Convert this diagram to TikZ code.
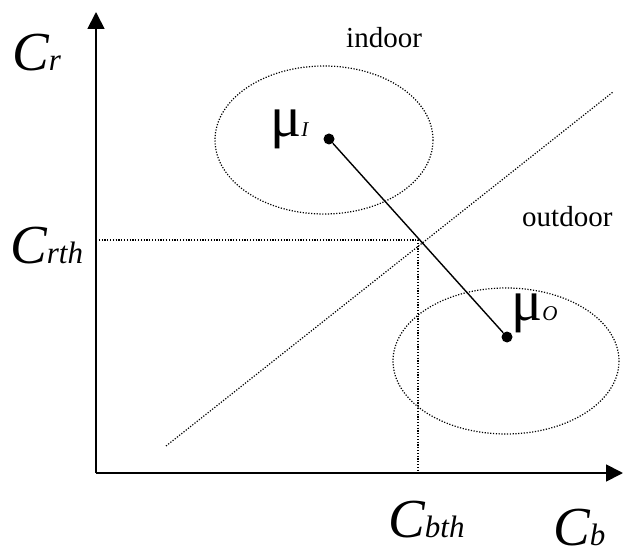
\documentclass[tikz,border=0pt]{standalone}
\usepackage{fontspec}
\setmainfont{Liberation Serif}
\usetikzlibrary{arrows.meta}
\newcommand{\bigC}[1]{{\fontsize{55}{55}\selectfont\itshape C}{\fontsize{31}{31}\selectfont\itshape #1}}
\newcommand{\mulab}[1]{{\fontsize{58}{58}\selectfont μ}{\fontsize{21}{21}\selectfont\itshape #1}}
\begin{document}
\begin{tikzpicture}[x=1pt,y=-1pt,
  axis/.style={line width=1.8pt,-{Triangle[length=17pt,width=17pt]}},
  dotline/.style={line width=1.2pt,dash pattern=on 1.2pt off 1.6pt},
  conn/.style={line width=1.4pt},
  ptdot/.style={circle,fill=black,inner sep=0pt,minimum size=11pt},
  lbl/.style={anchor=base west,inner sep=0pt},
  word/.style={anchor=base west,inner sep=0pt,font=\fontsize{29}{29}\selectfont}]
\useasboundingbox (0,0) rectangle (624,556);
\coordinate (O) at (96,473);
\coordinate (ytop) at (96,12);
\coordinate (xend) at (623,473);
\draw[axis] (O) -- (ytop);
\draw[axis] (O) -- (xend);
\coordinate (th) at (418,240);
\coordinate (thy) at (96,240);
\coordinate (thx) at (418,473);
\draw[dotline] (thy) -- (th) -- (thx);
\coordinate (dA) at (166,446);
\coordinate (dB) at (613,92);
\draw[dotline] (dA) -- (dB);
\draw[dotline] (324,140) ellipse [x radius=109, y radius=74];
\draw[dotline] (506,361) ellipse [x radius=113, y radius=73];
\node[ptdot] (muI) at (329,139) {};
\node[ptdot] (muO) at (507,337) {};
\draw[conn] (muI) -- (muO);
\node[lbl] (muIl) at (270,137) {\mulab{I}};
\node[lbl] (muOl) at (511,320) {\mulab{O}};
\node[lbl] (cr) at (12,71) {\bigC{r}};
\node[lbl] (crth) at (10,263) {\bigC{rth}};
\node[lbl] (cbth) at (388,537) {\bigC{bth}};
\node[lbl] (cb) at (553,545) {\bigC{b}};
\node[word] (indoor) at (346,48) {indoor};
\node[word] (outdoor) at (522,227) {outdoor};
\end{tikzpicture}
\end{document}
